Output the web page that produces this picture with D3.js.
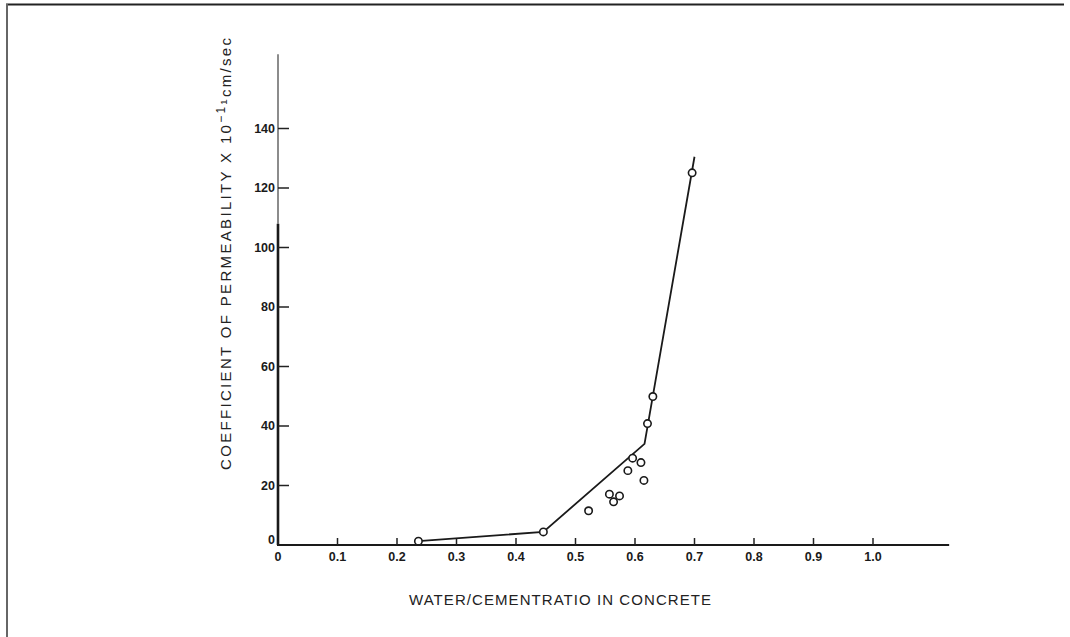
<!DOCTYPE html>
<html>
<head>
<meta charset="utf-8">
<script src="https://cdn.jsdelivr.net/npm/d3@7"></script>
<style>
  body { margin: 0; background: #fff; }
  text { font-family: "Liberation Sans", Arial, sans-serif; }
  .tick-label { font-size: 12.5px; font-weight: bold; fill: #1a1a1a; }
  .title { font-size: 15px; fill: #222; }
</style>
</head>
<body>
<svg></svg>
<script>
const WIDTH = 1070;
const HEIGHT = 637;

// measured points (w/c ratio, permeability x 10^-11 cm/sec)
const ratios = [0.236, 0.446, 0.522, 0.557, 0.564, 0.574, 0.588, 0.596, 0.610, 0.615, 0.621, 0.630, 0.696];
const permeability = [1.3, 4.4, 11.5, 17.1, 14.5, 16.5, 25.0, 29.2, 27.7, 21.7, 40.8, 49.9, 125.1];

// fitted curve vertices
const curveRatios = [0.236, 0.446, 0.616, 0.700];
const curvePerm = [1.3, 4.4, 34.0, 130.5];

const xTicks = [0, 0.1, 0.2, 0.3, 0.4, 0.5, 0.6, 0.7, 0.8, 0.9, 1.0];
const xTickLabels = ["0", "0.1", "0.2", "0.3", "0.4", "0.5", "0.6", "0.7", "0.8", "0.9", "1.0"];
const yTicks = [0, 20, 40, 60, 80, 100, 120, 140];

const x = d3.scaleLinear().domain([0, 1]).range([278, 873]);
const y = d3.scaleLinear().domain([0, 140]).range([545, 128.5]);

const svg = d3.select("svg").attr("width", WIDTH).attr("height", HEIGHT);

// frame
svg.append("line").attr("x1", 6).attr("x2", 1064).attr("y1", 4.5).attr("y2", 4.5)
  .attr("stroke", "#222").attr("stroke-width", 1.8);
svg.append("line").attr("x1", 7).attr("x2", 7).attr("y1", 4).attr("y2", 637)
  .attr("stroke", "#666").attr("stroke-width", 2);

// y axis: thin upper part, heavy lower part
svg.append("line").attr("x1", x(0)).attr("x2", x(0)).attr("y1", y(165)).attr("y2", y(108))
  .attr("stroke", "#666").attr("stroke-width", 1.5);
svg.append("line").attr("x1", x(0)).attr("x2", x(0)).attr("y1", y(108)).attr("y2", y(0))
  .attr("stroke", "#1a1a1a").attr("stroke-width", 2.6);

// x axis
svg.append("line").attr("x1", x(0) - 1).attr("x2", x(1.128)).attr("y1", y(0)).attr("y2", y(0))
  .attr("stroke", "#1a1a1a").attr("stroke-width", 2.2);

// y ticks pointing inward
const yg = svg.append("g");
yg.selectAll("line").data(yTicks.filter((d) => d > 0)).enter().append("line")
  .attr("x1", x(0)).attr("x2", x(0) + 11)
  .attr("y1", (d) => y(d)).attr("y2", (d) => y(d))
  .attr("stroke", "#222").attr("stroke-width", 1.5);
yg.selectAll("text").data(yTicks).enter().append("text")
  .classed("tick-label", true)
  .attr("x", 275)
  .attr("y", (d) => y(d) + (d === 0 ? -1 : 4.3))
  .attr("text-anchor", "end")
  .text((d) => d);

// x ticks pointing up
const xg = svg.append("g");
xg.selectAll("line").data(xTicks.filter((d) => d > 0)).enter().append("line")
  .attr("x1", (d) => x(d)).attr("x2", (d) => x(d))
  .attr("y1", y(0)).attr("y2", y(0) - 7)
  .attr("stroke", "#222").attr("stroke-width", 1.5);
xg.selectAll("text").data(xTicks).enter().append("text")
  .classed("tick-label", true)
  .attr("x", (d) => x(d))
  .attr("y", 561)
  .attr("text-anchor", "middle")
  .text((d, i) => xTickLabels[i]);

// curve
const line = d3.line().x((d) => x(d[0])).y((d) => y(d[1]));
svg.append("path")
  .attr("d", line(d3.zip(curveRatios, curvePerm)))
  .attr("fill", "none").attr("stroke", "#1a1a1a").attr("stroke-width", 1.8);

// points
svg.append("g").selectAll("circle").data(d3.zip(ratios, permeability)).enter().append("circle")
  .attr("cx", (d) => x(d[0])).attr("cy", (d) => y(d[1])).attr("r", 3.7)
  .attr("fill", "#fff").attr("stroke", "#1a1a1a").attr("stroke-width", 1.6);

// titles
svg.append("text").classed("title", true)
  .attr("x", 560).attr("y", 605).attr("text-anchor", "middle")
  .attr("textLength", 302).attr("lengthAdjust", "spacing")
  .text("WATER/CEMENTRATIO  IN  CONCRETE");

const yt = svg.append("text").classed("title", true)
  .attr("transform", "translate(231,254) rotate(-90)")
  .attr("text-anchor", "middle")
  .attr("textLength", 432).attr("lengthAdjust", "spacing");
yt.append("tspan").text("COEFFICIENT  OF  PERMEABILITY  X  10");
yt.append("tspan").attr("dy", -6).attr("font-size", 12).text("\u22121");
yt.append("tspan").attr("dy", 6).text("\u00b9cm/sec");
</script>
</body>
</html>
